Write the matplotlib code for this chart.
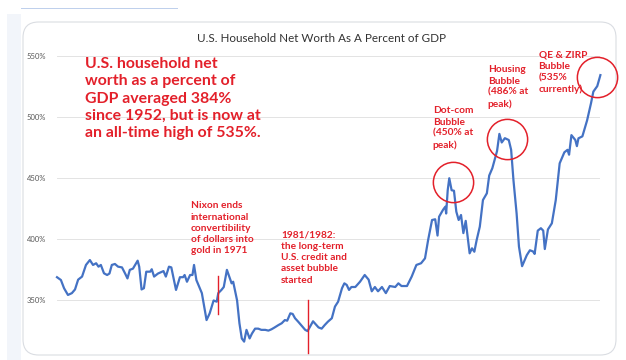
import matplotlib
matplotlib.use("Agg")
import matplotlib.pyplot as plt
from matplotlib.patches import FancyBboxPatch, Rectangle

# year (approx.) and household net worth as % of GDP
years = [
    1952.0, 1952.5, 1952.9, 1953.4, 1953.9, 1954.3, 1954.7, 1955.2, 1955.7, 1956.2,
    1956.6, 1957.0, 1957.3, 1957.6, 1958.0, 1958.4, 1958.7, 1959.0, 1959.4, 1959.8,
    1960.3, 1960.7, 1961.0, 1961.3, 1961.7, 1962.3, 1962.5, 1962.8, 1963.1, 1963.4,
    1963.9, 1964.1, 1964.4, 1964.9, 1965.6, 1965.9, 1966.3, 1966.6, 1967.2, 1967.7,
    1968.1, 1968.3, 1968.6, 1969.0, 1969.3, 1969.5, 1969.8, 1970.5, 1970.8, 1971.1,
    1971.5, 1972.0, 1972.4, 1972.6, 1973.0, 1973.3, 1973.7, 1974.0, 1974.3, 1974.5,
    1975.0, 1975.3, 1975.6, 1975.9, 1976.2, 1976.6, 1976.9, 1977.3, 1977.7, 1978.1,
    1978.6, 1979.0, 1979.4, 1979.8, 1980.3, 1980.7, 1981.1, 1981.4, 1981.8, 1982.1,
    1982.4, 1982.8, 1983.3, 1983.7, 1984.0, 1984.7, 1985.4, 1985.8, 1986.2, 1986.6,
    1987.1, 1987.5, 1987.9, 1988.4, 1988.7, 1989.0, 1989.3, 1989.6, 1990.1, 1990.7,
    1991.3, 1991.8, 1992.2, 1992.6, 1993.0, 1993.5, 1994.0, 1994.5, 1995.2, 1995.6,
    1996.0, 1996.7, 1997.3, 1997.9, 1998.5, 1999.0, 1999.4, 1999.9, 2000.3, 2000.6,
    2000.8, 2001.3, 2001.6, 2001.7, 2001.9, 2002.1, 2002.4, 2002.7, 2003.0, 2003.3,
    2003.6, 2003.9, 2004.2, 2004.5, 2004.7, 2005.0, 2005.3, 2005.6, 2006.0, 2006.4,
    2006.9, 2007.2, 2007.6, 2008.2, 2008.5, 2008.8, 2009.2, 2009.7, 2010.0, 2010.3,
    2010.7, 2011.0, 2011.4, 2012.0, 2012.4, 2012.8, 2013.0, 2013.4, 2013.8, 2014.1,
    2014.3, 2014.7, 2015.2, 2015.7, 2016.2, 2016.8, 2017.2, 2017.4, 2017.7, 2018.2,
    2018.4, 2018.6, 2019.1, 2019.7, 2020.2, 2020.5, 2021.0, 2021.4,
]
net_worth_pct = [
    369, 366.7, 360, 354.5, 356, 359, 367, 369.5, 379, 383,
    379, 380.4, 377.6, 379, 372.2, 370.8, 372, 379, 379.8, 377.6,
    377, 372, 368, 375, 376, 382.5, 377.6, 359, 360, 373.5,
    373.5, 375.5, 369.5, 372, 374, 369.5, 377.6, 377, 358.6, 369,
    369, 370.8, 365.3, 370.8, 370.8, 379, 366.7, 356, 345, 334,
    339.5, 350, 349, 356, 358.6, 361, 375, 369.5, 364, 365.3,
    350, 331.4, 319, 316.4, 326, 319, 323, 327, 327, 326,
    326, 325.4, 326.5, 328, 330, 331.4, 334, 333.5, 339.5, 339,
    335.5, 332.7, 329, 326, 325, 333, 328, 327, 330, 332.7,
    335.5, 345, 349, 360, 364, 362.7, 358.6, 361, 361, 365.3,
    370.8, 367, 357.5, 361, 357.5, 361, 356, 361.8, 361, 364,
    361.8, 361.8, 369.5, 379, 380.4, 384.4, 399.4, 415.7, 416.3, 403,
    418.4, 424, 426.6, 421, 440, 449.8, 440, 439.6, 422.5, 415.7,
    419.8, 405, 415, 399.4, 388.5, 392.6, 389.8, 399.4, 410.3, 432,
    437.5, 452, 458, 472, 486, 479, 482.5, 481, 473, 448,
    421, 394, 378, 387, 391, 390, 388, 407, 409, 407,
    392, 408, 413, 432, 462, 471, 473, 469, 485, 481,
    476, 482.4, 484, 497, 511, 520.5, 525, 534,
]
ytick_values = [350, 400, 450, 500, 550]
ytick_labels = ["350%", "400%", "450%", "500%", "550%"]

title = "U.S. Household Net Worth As A Percent of GDP"
headline = ("U.S. household net\nworth as a percent of\nGDP averaged 384%\n"
            "since 1952, but is now at\nan all-time high of 535%.")
# (text, year, value at top of text)
notes = [
    ("Nixon ends\ninternational\nconvertibility\nof dollars into\ngold in 1971", 1969.1, 431),
    ("1981/1982:\nthe long-term\nU.S. credit and\nasset bubble\nstarted", 1980.6, 407),
    ("Dot-com\nBubble\n(450% at\npeak)", 2000.0, 508.5),
    ("Housing\nBubble\n(486% at\npeak)", 2007.0, 542),
    ("QE & ZIRP\nBubble\n(535%\ncurrently)", 2013.5, 554),
]
# circled peaks
circle_years = [2002.6, 2009.5, 2021.0]
circle_values = [446.7, 481.8, 532.5]
# red markers: (year, value from, value to)
event_lines = [(1972.6, 339, 370), (1984.1, 307, 350.4)]

RED = "#E3202A"
BLUE = "#4472C4"
W, H = 626, 360

plt.rcParams["font.family"] = ["Lato", "DejaVu Sans"]
fig = plt.figure(figsize=(W / 100, H / 100), dpi=100)
fig.patch.set_facecolor("white")

# page background and card
fig.patches.append(Rectangle((7 / W, 0), 14 / W, 1 - 14 / H, transform=fig.transFigure,
                             facecolor="#F2F5FA", edgecolor="none", zorder=0))
fig.patches.append(Rectangle((21 / W, 1 - 9 / H), 157 / W, 1.2 / H, transform=fig.transFigure,
                             facecolor="#BFD0EC", edgecolor="none", zorder=0))
fig.patches.append(FancyBboxPatch((23 / W, 5 / H), 593 / W, 333 / H, transform=fig.transFigure,
                                  boxstyle="round,pad=0,rounding_size=0.025",
                                  facecolor="white", edgecolor="#DADDE2", linewidth=0.8,
                                  zorder=1, mutation_aspect=W / H))

ax = fig.add_axes([57 / W, 0, 543 / W, 310 / H])
ax.set_zorder(2)
ax.patch.set_alpha(0)
ax.plot(years, net_worth_pct, color=BLUE, linewidth=1.6, solid_joinstyle="round", clip_on=False)
ax.set_xlim(1952.0, 2021.35)
ax.set_ylim(301.4, 554.5)
ax.set_yticks(ytick_values)
ax.set_yticklabels(ytick_labels)
ax.tick_params(axis="y", length=0, pad=8, labelsize=5.5, labelcolor="#595959")
ax.set_xticks([])
ax.grid(axis="y", color="#E3E3E3", linewidth=0.7)
for side in ax.spines.values():
    side.set_visible(False)

for yr, lo, hi in event_lines:
    ax.plot([yr, yr], [lo, hi], color=RED, linewidth=1.0, clip_on=False)
ax.plot(circle_years, circle_values, "o", markersize=29, markerfacecolor="none",
        markeredgecolor=RED, markeredgewidth=1.1, clip_on=False)

for text, yr, top in notes:
    ax.text(yr, top, text, color=RED, fontsize=7.3, fontweight="bold",
            va="top", ha="left", linespacing=1.32)

fig.text(321 / W, 1 - 38 / H, title, ha="center", va="center", fontsize=8.4, color="#333333")
fig.text(85 / W, 1 - 57 / H, headline, ha="left", va="top", fontsize=11.4,
         fontweight="bold", color=RED, linespacing=1.3)

fig.savefig("out.png", dpi=100)
